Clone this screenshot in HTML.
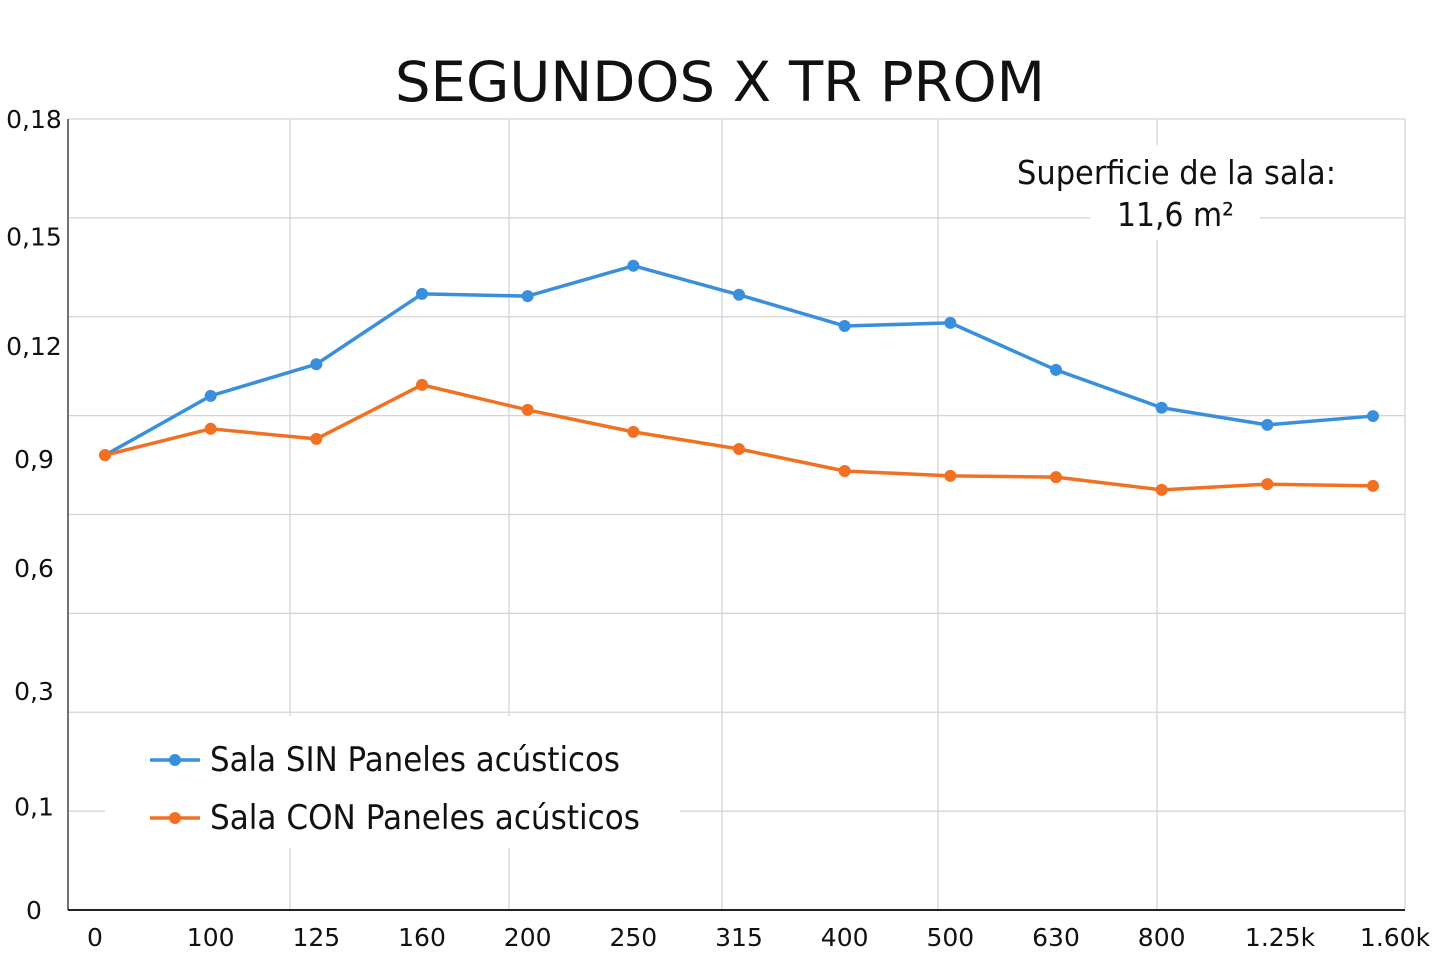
<!DOCTYPE html>
<html><head><meta charset="utf-8"><style>
html,body{margin:0;padding:0;background:#fff;}
svg{display:block;}
text{font-family:"DejaVu Sans","Liberation Sans",sans-serif;fill:#111;}
</style></head><body>
<svg id="chart" width="1440" height="960">
<text x="720" y="101" text-anchor="middle" font-size="55" textLength="650" lengthAdjust="spacingAndGlyphs">SEGUNDOS X TR PROM</text>
<g id="grid"></g>
<g id="annot"></g>
<g id="series"></g>
<g id="legend"></g>
<g id="axes"></g>
</svg>
<script>
const categories=["0","100","125","160","200","250","315","400","500","630","800","1.25k","1.60k"];
const sinValues=[0.1035,0.1170,0.1242,0.1402,0.1397,0.1466,0.1400,0.1329,0.1336,0.1229,0.1143,0.1104,0.1124];
const conValues=[0.1035,0.1095,0.1072,0.1195,0.1138,0.1088,0.1049,0.0999,0.0988,0.0985,0.0956,0.0969,0.0965];
const yTickLabels=["0","0,1","0,3","0,6","0,9","0,12","0,15","0,18"];
const yTickLabelValues=[0.0,0.0235,0.0498,0.0778,0.1026,0.1283,0.1533,0.18];

const NS="http://www.w3.org/2000/svg";
const L=68,R=1405,T=119,B=910,YMAX=0.18;
function y(v){return B-(v/YMAX)*(B-T);}
function x(i){return 105+i*(1373-105)/(categories.length-1);}
function mk(tag,attrs,parent){const e=document.createElementNS(NS,tag);for(const k in attrs)e.setAttribute(k,attrs[k]);parent.appendChild(e);return e;}
const grid=document.getElementById('grid');
for(let k=0;k<=8;k++){const gy=T+k*(B-T)/8;
 const l=mk('line',{x1:L,x2:R,y1:gy,y2:gy,stroke:'#d4d4d4','stroke-width':1.3},grid);
 
 }
[290,509,722,938,1157,1405].forEach(gx=>{const l=mk('line',{x1:gx,x2:gx,y1:T,y2:B,stroke:'#d4d4d4','stroke-width':1.3},grid);
 
 });
const axes=document.getElementById('axes');
mk('line',{x1:L,x2:L,y1:T,y2:B,stroke:'#444','stroke-width':1.5},axes);
mk('line',{x1:L,x2:R,y1:B,y2:B,stroke:'#222','stroke-width':2},axes);
yTickLabels.forEach((t,i)=>{const e=mk('text',{x:34,y:y(yTickLabelValues[i])+9,'text-anchor':'middle','font-size':25},axes);e.textContent=t;
 
 });
categories.forEach((c,i)=>{let px=x(i);if(i===0)px=95;if(i===12)px=1395;if(i===11)px=1280;
 const e=mk('text',{x:px,y:946,'text-anchor':'middle','font-size':25},axes);e.textContent=c;
 
 });
const annot=document.getElementById('annot');
mk('rect',{x:1090,y:145,width:170,height:95,fill:'#fff'},annot);
mk('rect',{x:1010,y:145,width:330,height:60,fill:'#fff'},annot);
let a1=mk('text',{x:1017,y:184,'font-size':33,textLength:319,lengthAdjust:'spacingAndGlyphs'},annot);a1.textContent='Superficie de la sala:';


let a2=mk('text',{x:1117,y:226,'font-size':33,textLength:117,lengthAdjust:'spacingAndGlyphs'},annot);a2.textContent='11,6 m²';


const series=document.getElementById('series');
function draw(vals,color,name){
 const p=mk('polyline',{points:vals.map((v,i)=>x(i)+','+y(v)).join(' '),fill:'none',stroke:color,'stroke-width':3.5,'stroke-linejoin':'round'},series);
 
 
 vals.forEach((v,i)=>{const c=mk('circle',{cx:x(i),cy:y(v),r:6,fill:color},series);
  
  });
}
draw(sinValues,'#3a8fdc','sin-paneles');
draw(conValues,'#f27022','con-paneles');
const lg=document.getElementById('legend');
mk('rect',{x:105,y:716,width:575,height:132,fill:'#fff'},lg);
[['#3a8fdc','Sala SIN Paneles acústicos',760,410],['#f27022','Sala CON Paneles acústicos',818,430]].forEach(([c,t,ly,w])=>{
 mk('line',{x1:150,x2:200,y1:ly,y2:ly,stroke:c,'stroke-width':3.5},lg);
 mk('circle',{cx:175,cy:ly,r:6,fill:c},lg);
 const e=mk('text',{x:210,y:ly+11,'font-size':34,textLength:w,lengthAdjust:'spacingAndGlyphs'},lg);e.textContent=t;
 
 });
</script>
</body></html>
